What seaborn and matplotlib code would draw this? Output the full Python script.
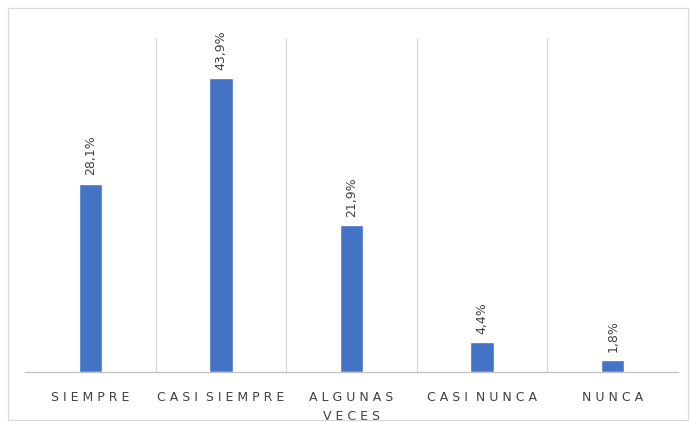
import matplotlib
matplotlib.use("Agg")
import matplotlib.pyplot as plt
import seaborn as sns
import pandas as pd
from matplotlib.patches import Rectangle

categories = ["S I E M P R E", "C A S I  S I E M P R E", "A L G U N A S\nV E C E S",
              "C A S I  N U N C A", "N U N C A"]
values = [28.1, 43.9, 21.9, 4.4, 1.8]
labels = ["28,1%", "43,9%", "21,9%", "4,4%", "1,8%"]

sns.set_theme(style="white")
plt.rcParams['font.family'] = ['DejaVu Sans']

df = pd.DataFrame({"cat": categories, "val": values})

fig = plt.figure(figsize=(6.9, 4.22), dpi=100)
ax = fig.add_axes([25 / 690, 1 - 372 / 422, 653 / 690, 334 / 422])

sns.barplot(data=df, x="cat", y="val", color="#4472C4", width=0.18,
            saturation=1, ax=ax)

ax.set_ylim(0, 49.8)
ax.set_xlim(-0.5, 4.5)
ax.set_xlabel("")
ax.set_ylabel("")
ax.set_yticks([])
for x in [0.5, 1.5, 2.5, 3.5]:
    ax.axvline(x, color="#d9d9d9", lw=0.9, zorder=0)
for s in ["top", "left", "right"]:
    ax.spines[s].set_visible(False)
ax.spines["bottom"].set_color("#bfbfbf")
ax.spines["bottom"].set_linewidth(0.9)
ax.tick_params(axis="x", length=0, pad=14, labelsize=9, colors="#404040")
for t in ax.get_xticklabels():
    t.set_linespacing(1.6)

for i, (v, lab) in enumerate(zip(values, labels)):
    ax.text(i, v + 1.2, lab, rotation=90, ha="center", va="bottom",
            fontsize=9, color="#404040")

fig.patches.append(Rectangle((8 / 690, 2 / 422), 680 / 690, 412 / 422,
                             transform=fig.transFigure, fill=False,
                             edgecolor="#d9d9d9", lw=0.9))

fig.savefig("out.png", dpi=100)
